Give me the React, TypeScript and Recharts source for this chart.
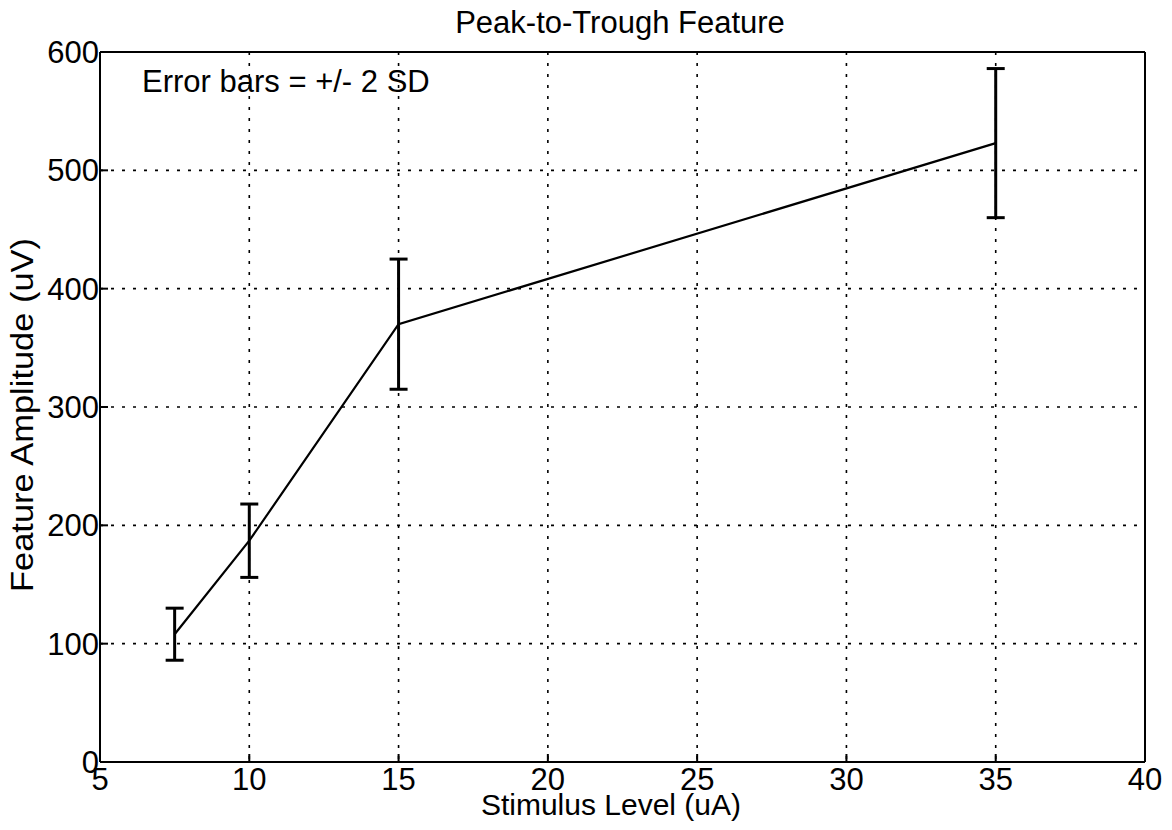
import React from "react";
import {
  ErrorBar,
  CartesianGrid,
  Label,
  Line,
  LineChart,
  ReferenceLine,
  XAxis,
  YAxis
} from "recharts";

const stimulus = [7.5, 10, 15, 35];
const amplitude = [108, 187, 370, 523];
const twoSd = [22, 31, 55, 63];

const xTicks = [5, 10, 15, 20, 25, 30, 35, 40];
const yTicks = [0, 100, 200, 300, 400, 500, 600];

const data = stimulus.map((x, i) => ({ x, y: amplitude[i], err: twoSd[i] }));

const font = "'Liberation Sans', Arial, Helvetica, sans-serif";
const tickStyle = { fontSize: 31, fontFamily: font, fill: "#000" };

export default function App() {
  return (
    <div style={{ position: "absolute", left: 0, top: 0, background: "#fff" }}>
      <LineChart
        width={1172}
        height={830}
        data={data}
        margin={{ top: 52, right: 27, bottom: 0, left: 0 }}
      >
        <CartesianGrid stroke="#000" strokeWidth={1.6} strokeDasharray="3 8" />
        <XAxis
          dataKey="x"
          type="number"
          domain={[5, 40]}
          ticks={xTicks}
          interval={0}
          stroke="#000"
          strokeWidth={2}
          tickSize={-8}
          tickMargin={14}
          tick={tickStyle}
          height={68}
        >
          <Label
            content={() => (
              <text x={611} y={815} textAnchor="middle" style={{ fontSize: 30, fontFamily: font }}>
                Stimulus Level (uA)
              </text>
            )}
          />
          <Label
            content={() => (
              <text x={620} y={33} textAnchor="middle" style={{ fontSize: 31, fontFamily: font }}>
                Peak-to-Trough Feature
              </text>
            )}
          />
        </XAxis>
        <XAxis
          xAxisId="t"
          dataKey="x"
          type="number"
          orientation="top"
          domain={[5, 40]}
          ticks={xTicks}
          interval={0}
          stroke="#000"
          strokeWidth={2}
          tickSize={-8}
          tick={false}
          height={0}
        />
        <YAxis
          type="number"
          domain={[0, 600]}
          ticks={yTicks}
          interval={0}
          stroke="#000"
          strokeWidth={2}
          tickSize={-8}
          tickMargin={9}
          tick={tickStyle}
          width={100}
        >
          <Label
            content={() => (
              <text
                x={33}
                y={415}
                textAnchor="middle"
                transform="rotate(-90, 33, 415)"
                style={{ fontSize: 31, fontFamily: font }}
                textLength={354}
                lengthAdjust="spacingAndGlyphs"
              >
                Feature Amplitude (uV)
              </text>
            )}
          />
          <Label
            content={() => (
              <text x={142} y={92} style={{ fontSize: 31, fontFamily: font }}>
                Error bars = +/- 2 SD
              </text>
            )}
          />
        </YAxis>
        <YAxis
          yAxisId="r"
          type="number"
          orientation="right"
          domain={[0, 600]}
          ticks={yTicks}
          interval={0}
          stroke="#000"
          strokeWidth={2}
          tickSize={-8}
          tick={false}
          width={0}
        />
        <ReferenceLine y={600} stroke="#000" strokeWidth={2} />
        <ReferenceLine x={40} stroke="#000" strokeWidth={2} />
        <Line
          dataKey="y"
          stroke="#000"
          strokeWidth={2.2}
          dot={false}
          isAnimationActive={false}
        >
          <ErrorBar dataKey="err" direction="y" width={9} stroke="#000" strokeWidth={3} isAnimationActive={false} />
        </Line>
      </LineChart>
    </div>
  );
}
